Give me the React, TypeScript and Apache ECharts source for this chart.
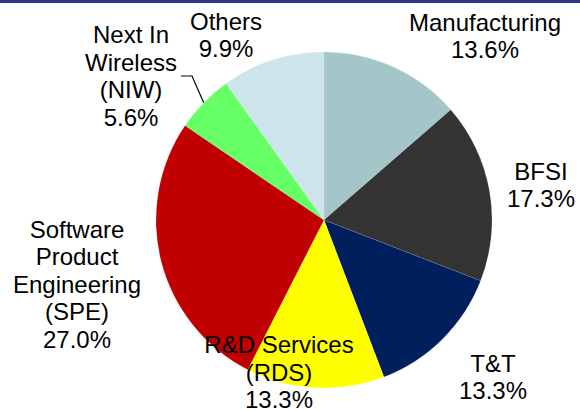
import React, { useEffect, useRef } from "react";
import * as echarts from "echarts";

const categories = [
  "Manufacturing",
  "BFSI",
  "T&T",
  "R&D Services\n(RDS)",
  "Software\nProduct\nEngineering\n(SPE)",
  "Next In\nWireless\n(NIW)",
  "Others",
];
const shares = [13.6, 17.3, 13.3, 13.3, 27.0, 5.6, 9.9];
const colors = ["#A4C6C9", "#333333", "#001F5C", "#FFFF00", "#C00000", "#66FF66", "#CDE5EA"];
// label anchor positions (centre of each label block)
const labelX = [485, 541, 493, 279, 77, 131, 226];
const labelY = [36, 185, 377, 372, 284, 76, 35];

export default function App() {
  const ref = useRef<HTMLDivElement>(null);
  useEffect(() => {
    const chart = echarts.init(ref.current!, null, { renderer: "svg" });
    chart.setOption({
      animation: false,
      backgroundColor: "#ffffff",
      graphic: [
        {
          type: "rect",
          shape: { x: 0, y: 0, width: 580, height: 3 },
          style: { fill: "#333388" },
        },
      ],
      series: [
        {
          type: "pie",
          center: [324, 220],
          radius: [0, 168],
          startAngle: 90,
          clockwise: true,
          avoidLabelOverlap: false,
          itemStyle: { borderColor: "rgba(255,255,255,0.25)", borderWidth: 0.5 },
          label: {
            show: true,
            position: "outside",
            formatter: (p: any) => `${p.name}\n${p.value.toFixed(1)}%`,
            fontFamily: "'Liberation Sans', Arial, sans-serif",
            fontSize: 24,
            lineHeight: 27.5,
            color: "#000000",
            align: "center",
            width: 180,
            overflow: "none",
          },
          labelLine: { show: false, length: 10, length2: 11, lineStyle: { color: "#000000", width: 1.2 } },
          labelLayout: (params: any) => ({
            x: labelX[params.dataIndex],
            y: labelY[params.dataIndex],
            align: "center",
            verticalAlign: "middle",
          }),
          emphasis: { disabled: true },
          data: categories.map((name, i) => ({
            name,
            value: shares[i],
            itemStyle: { color: colors[i] },
            labelLine: i === 5 ? { show: true } : { show: false },
            label: i === 5 ? { width: 100 } : undefined,
          })),
        },
      ],
    });
    return () => chart.dispose();
  }, []);
  return (
    <div
      ref={ref}
      style={{ position: "fixed", left: 0, top: 0, width: 580, height: 410 }}
    />
  );
}
